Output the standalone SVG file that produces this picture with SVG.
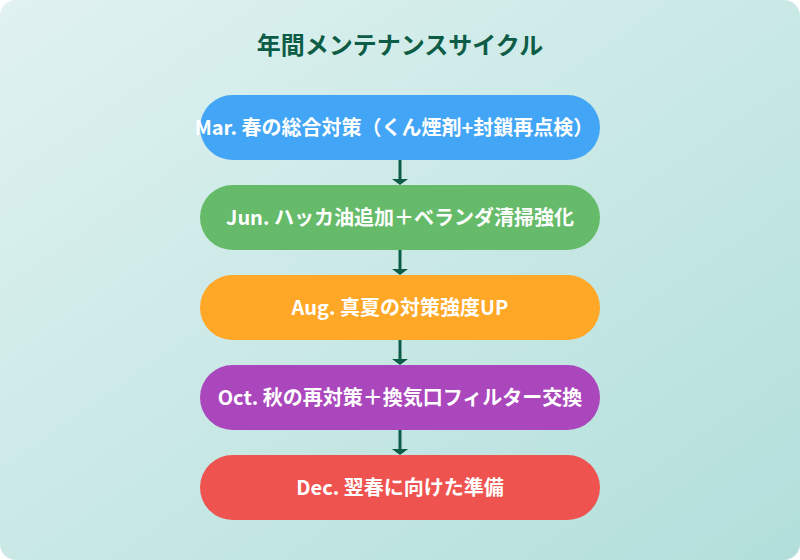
<svg xmlns="http://www.w3.org/2000/svg" width="800" height="560" viewBox="0 0 800 560">
<defs>
<linearGradient id="bg" x1="0" y1="0" x2="1" y2="1">
<stop offset="0" stop-color="#e0f2f1"/>
<stop offset="1" stop-color="#b2dfdb"/>
</linearGradient>
<style>
.title{font-family:"Noto Sans CJK JP","Noto Sans",sans-serif;font-weight:700;font-size:24px;fill:#0d5c46}
.lbl{font-family:"Noto Sans CJK JP","Noto Sans",sans-serif;font-weight:700;font-size:20px;fill:#ffffff}
.conn{stroke:#0d5c46;stroke-width:3;fill:none}
.head{fill:#0d5c46}
</style>
</defs>
<rect x="0" y="0" width="800" height="560" rx="16" fill="url(#bg)"/>
<text class="title" x="400" y="54" text-anchor="middle">年間メンテナンスサイクル</text>
<g id="connectors">
<line class="conn" x1="400" y1="160" x2="400" y2="180"/>
<path class="head" d="M392,179 L408,179 L400,185 Z"/>
<line class="conn" x1="400" y1="250" x2="400" y2="270"/>
<path class="head" d="M392,269 L408,269 L400,275 Z"/>
<line class="conn" x1="400" y1="340" x2="400" y2="360"/>
<path class="head" d="M392,359 L408,359 L400,365 Z"/>
<line class="conn" x1="400" y1="430" x2="400" y2="450"/>
<path class="head" d="M392,449 L408,449 L400,455 Z"/>
</g>
<g id="mar">
<rect x="200" y="95" width="400" height="65" rx="32.5" fill="#42a5f5"/>
<text class="lbl" x="394" y="135" text-anchor="middle">Mar. 春の総合対策（くん煙剤+封鎖再点検）</text>
</g>
<g id="jun">
<rect x="200" y="185" width="400" height="65" rx="32.5" fill="#66bb6a"/>
<text class="lbl" x="400" y="225" text-anchor="middle">Jun. ハッカ油追加＋ベランダ清掃強化</text>
</g>
<g id="aug">
<rect x="200" y="275" width="400" height="65" rx="32.5" fill="#ffa726"/>
<text class="lbl" x="400" y="315" text-anchor="middle">Aug. 真夏の対策強度UP</text>
</g>
<g id="oct">
<rect x="200" y="365" width="400" height="65" rx="32.5" fill="#ab47bc"/>
<text class="lbl" x="400" y="405" text-anchor="middle">Oct. 秋の再対策＋換気口フィルター交換</text>
</g>
<g id="dec">
<rect x="200" y="455" width="400" height="65" rx="32.5" fill="#ef5350"/>
<text class="lbl" x="400" y="495" text-anchor="middle">Dec. 翌春に向けた準備</text>
</g>
</svg>
